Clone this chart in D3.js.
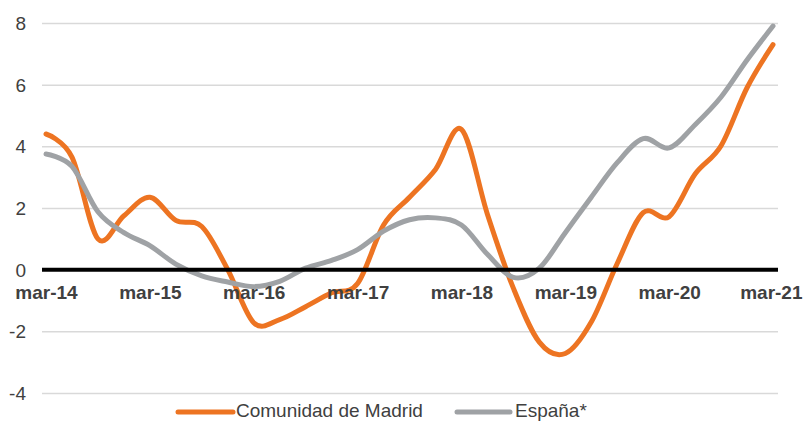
<!DOCTYPE html>
<html>
<head>
<meta charset="utf-8">
<script src="https://cdn.jsdelivr.net/npm/d3@7"></script>
<style>
  html, body { margin: 0; padding: 0; background: #ffffff; }
  svg { display: block; font-family: "Liberation Sans", Arial, sans-serif; }
</style>
</head>
<body>
<svg id="chart" width="803" height="421"></svg>
<script>
// ---- data ----
const quarters = d3.range(0, 29); // quarterly points, mar-14 .. mar-21
const tickLabels = ["mar-14", "mar-15", "mar-16", "mar-17", "mar-18", "mar-19", "mar-20", "mar-21"];
const tickIndexes = [0, 4, 8, 12, 16, 20, 24, 28];
const yTicks = [-4, -2, 0, 2, 4, 6, 8];
const madrid = [4.4, 3.65, 1.0, 1.75, 2.35, 1.6, 1.4, 0.0, -1.72, -1.62, -1.2, -0.75, -0.45,
                1.45, 2.35, 3.25, 4.55, 1.8, -0.6, -2.35, -2.72, -1.7, 0.2, 1.85, 1.72,
                3.1, 4.02, 5.9, 7.3];
const espana = [3.75, 3.35, 1.88, 1.2, 0.78, 0.18, -0.2, -0.4, -0.55, -0.38, 0.05, 0.3, 0.65,
                1.25, 1.62, 1.68, 1.45, 0.5, -0.25, 0.05, 1.2, 2.35, 3.47, 4.25, 3.95,
                4.7, 5.6, 6.8, 7.9];
const seriesNames = ["Comunidad de Madrid", "España*"];
const seriesColors = ["#ED7422", "#9FA2A5"];

// ---- layout ----
const svg = d3.select("#chart");
const plotLeft = 42, plotRight = 778;
const x = d3.scaleLinear().domain([0, 28]).range([46, 773]);
const y = d3.scaleLinear().domain([-4, 8]).range([393, 23]);
const textColor = "#404040";

// gridlines + y labels
const yAxis = d3.axisLeft(y)
  .tickValues(yTicks)
  .tickSize(-(plotRight - plotLeft))
  .tickPadding(16)
  .tickFormat(d3.format("d"));
const gy = svg.append("g")
  .attr("transform", `translate(${plotLeft},0)`)
  .call(yAxis);
gy.select(".domain").remove();
gy.selectAll(".tick line").attr("stroke", "#d9d9d9").attr("stroke-width", 1.5);
gy.selectAll(".tick text")
  .attr("fill", textColor)
  .attr("font-size", 19)
  .attr("dy", "0.35em")
  .text(d => d < 0 ? "-" + Math.abs(d) : d);

// series lines
const line = d3.line()
  .x((d, i) => x(quarters[i]))
  .y(d => y(d))
  .curve(d3.curveCardinal.tension(0));

[madrid, espana].forEach((s, k) => {
  svg.append("path")
    .datum(s)
    .attr("fill", "none")
    .attr("stroke", seriesColors[k])
    .attr("stroke-width", 5)
    .attr("stroke-linecap", "round")
    .attr("stroke-linejoin", "round")
    .attr("d", line);
});

// zero line (drawn above series like the reference)
svg.append("line")
  .attr("x1", plotLeft).attr("x2", plotRight)
  .attr("y1", y(0)).attr("y2", y(0))
  .attr("stroke", "#000000")
  .attr("stroke-width", 4);

// x labels
const xAxis = d3.axisBottom(x)
  .tickValues(tickIndexes)
  .tickSize(0)
  .tickPadding(0)
  .tickFormat((d, i) => tickLabels[i]);
const gx = svg.append("g")
  .attr("transform", `translate(0,${y(0)})`)
  .call(xAxis);
gx.select(".domain").remove();
gx.selectAll(".tick text")
  .attr("fill", textColor)
  .attr("font-size", 19)
  .attr("font-weight", "bold")
  .attr("y", 29)
  .attr("dy", 0);
// keep the last label inside the frame
gx.selectAll(".tick text")
  .filter(d => d === tickIndexes[tickIndexes.length - 1])
  .attr("text-anchor", "end")
  .attr("x", 802 - x(tickIndexes[tickIndexes.length - 1]));

// legend
const legend = svg.append("g");
const legendItems = [
  { x1: 178, x2: 233, tx: 236 },
  { x1: 457, x2: 510, tx: 515 }
];
legendItems.forEach((it, k) => {
  legend.append("line")
    .attr("x1", it.x1).attr("x2", it.x2)
    .attr("y1", 412).attr("y2", 412)
    .attr("stroke", seriesColors[k])
    .attr("stroke-width", 5)
    .attr("stroke-linecap", "round");
  legend.append("text")
    .attr("x", it.tx).attr("y", 416.5)
    .attr("fill", textColor)
    .attr("font-size", 19)
    .text(seriesNames[k]);
});
</script>
</body>
</html>
